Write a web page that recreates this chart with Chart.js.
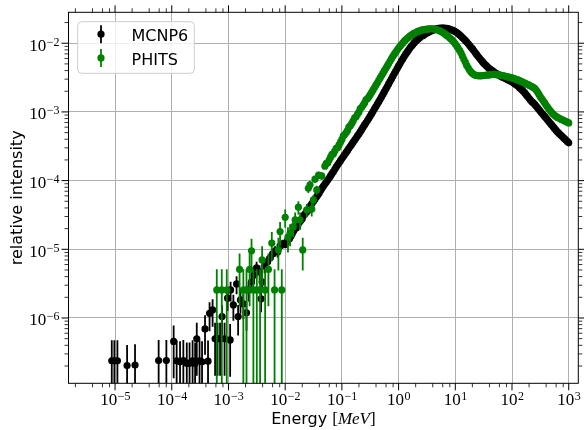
<!DOCTYPE html>
<html><head><meta charset="utf-8">
<script src="https://cdn.jsdelivr.net/npm/chart.js@4.4.0/dist/chart.umd.min.js"></script>
<style>html,body{margin:0;padding:0;background:#fff;}canvas{display:block;}</style>
</head><body>
<canvas id="c" width="584" height="430"></canvas>
<script>
// ---------- data ----------
const seriesNames = ['MCNP6', 'PHITS'];

// MCNP6: sparse low-energy points (energy MeV, intensity, relative error)
const mcnpLowE = [8.75e-6, 9.72e-6, 1.10e-5, 1.63e-5, 2.25e-5, 5.87e-5, 8.03e-5, 1.08e-4, 1.22e-4, 1.40e-4, 1.60e-4, 1.84e-4, 2.06e-4, 2.33e-4, 2.58e-4, 2.76e-4, 3.09e-4, 3.42e-4, 3.86e-4, 4.36e-4, 4.64e-4, 5.25e-4, 5.81e-4, 6.43e-4, 7.11e-4, 7.71e-4, 8.53e-4, 9.64e-4, 1.07e-3, 1.09e-3, 1.22e-3, 1.39e-3, 1.48e-3, 1.63e-3, 1.83e-3, 2.08e-3, 2.26e-3, 2.55e-3, 2.83e-3, 3.13e-3, 3.54e-3, 3.76e-3, 3.92e-3, 4.34e-3, 4.80e-3, 5.42e-3, 6.00e-3, 6.64e-3, 7.35e-3, 8.13e-3, 8.99e-3];
const mcnpLowI = [2.38e-7, 2.38e-7, 2.38e-7, 2.03e-7, 2.07e-7, 2.40e-7, 2.40e-7, 4.56e-7, 2.38e-7, 2.30e-7, 2.40e-7, 2.20e-7, 2.20e-7, 2.38e-7, 2.20e-7, 4.97e-7, 2.38e-7, 2.30e-7, 6.93e-7, 2.35e-7, 1.17e-6, 1.31e-6, 4.97e-7, 4.97e-7, 4.97e-7, 1.05e-6, 4.97e-7, 1.94e-6, 4.80e-7, 2.56e-6, 1.55e-6, 3.13e-6, 1.05e-6, 1.83e-6, 1.60e-6, 1.19e-6, 2.56e-6, 3.35e-6, 4.24e-6, 5.36e-6, 4.69e-6, 1.90e-6, 3.35e-6, 5.73e-6, 6.56e-6, 7.50e-6, 8.57e-6, 9.48e-6, 9.17e-6, 1.12e-5, 1.20e-5];
const mcnpLowErr = [1, 1, 1, 1, 1, 1, 1, 0.71, 1, 1, 1, 1, 1, 1, 1, 0.71, 1, 1, 0.58, 1, 0.45, 0.43, 0.71, 0.71, 0.71, 0.47, 0.71, 0.35, 0.71, 0.32, 0.41, 0.29, 0.47, 0.37, 0.40, 0.45, 0.32, 0.28, 0.26, 0.23, 0.24, 0.36, 0.28, 0.22, 0.20, 0.19, 0.18, 0.17, 0.17, 0.16, 0.15];

// MCNP6: dense part, even bins (error bars smaller than the markers)
const mcnpE = [1.00e-2, 1.12e-2, 1.26e-2, 1.41e-2, 1.58e-2, 1.78e-2, 2.00e-2, 2.24e-2, 2.51e-2, 2.82e-2, 3.16e-2, 3.55e-2, 3.98e-2, 4.47e-2, 5.01e-2, 5.62e-2, 6.31e-2, 7.08e-2, 7.94e-2, 8.91e-2,
  0.100, 0.112, 0.126, 0.141, 0.158, 0.178, 0.200, 0.224, 0.251, 0.282, 0.316, 0.355, 0.398, 0.447, 0.501, 0.562, 0.631, 0.708, 0.794, 0.891,
  1.00, 1.12, 1.26, 1.41, 1.58, 1.78, 2.00, 2.24, 2.51, 2.82, 3.16, 3.55, 3.98, 4.47, 5.01, 5.62, 6.31, 7.08, 7.94, 8.91,
  10.0, 11.2, 12.6, 14.1, 15.8, 17.8, 20.0, 22.4, 25.1, 28.2, 31.6, 35.5, 39.8, 44.7, 50.1, 56.2, 63.1, 70.8, 79.4, 89.1,
  100, 112, 126, 141, 158, 178, 200, 224, 251, 282, 316, 355, 398, 447, 501, 562, 631, 708, 794, 891, 1000];
const mcnpI = [1.17e-5, 1.38e-5, 1.55e-5, 1.85e-5, 2.06e-5, 2.48e-5, 2.79e-5, 3.28e-5, 3.68e-5, 4.37e-5, 5.01e-5, 5.75e-5, 6.61e-5, 7.76e-5, 8.91e-5, 1.02e-4, 1.17e-4, 1.35e-4, 1.58e-4, 1.82e-4,
  2.09e-4, 2.40e-4, 2.75e-4, 3.16e-4, 3.63e-4, 4.17e-4, 4.79e-4, 5.56e-4, 6.46e-4, 7.50e-4, 8.71e-4, 1.02e-3, 1.20e-3, 1.41e-3, 1.66e-3, 1.97e-3, 2.34e-3, 2.79e-3, 3.31e-3, 3.94e-3,
  4.68e-3, 5.50e-3, 6.46e-3, 7.41e-3, 8.51e-3, 9.55e-3, 1.07e-2, 1.16e-2, 1.26e-2, 1.33e-2, 1.41e-2, 1.48e-2, 1.55e-2, 1.60e-2, 1.64e-2, 1.66e-2, 1.66e-2, 1.64e-2, 1.60e-2, 1.55e-2,
  1.48e-2, 1.38e-2, 1.27e-2, 1.16e-2, 1.05e-2, 9.33e-3, 8.32e-3, 7.33e-3, 6.46e-3, 5.75e-3, 5.13e-3, 4.68e-3, 4.27e-3, 3.98e-3, 3.72e-3, 3.51e-3, 3.31e-3, 3.16e-3, 3.02e-3, 2.88e-3,
  2.75e-3, 2.57e-3, 2.40e-3, 2.19e-3, 2.00e-3, 1.78e-3, 1.58e-3, 1.41e-3, 1.29e-3, 1.15e-3, 1.02e-3, 9.12e-4, 8.13e-4, 7.24e-4, 6.46e-4, 5.75e-4, 5.13e-4, 4.68e-4, 4.27e-4, 3.89e-4, 3.55e-4];
// MCNP6: dense part, odd bins
const mcnpMidE = [1.06e-2, 1.19e-2, 1.33e-2, 1.50e-2, 1.68e-2, 1.88e-2, 2.11e-2, 2.37e-2, 2.66e-2, 2.99e-2, 3.35e-2, 3.76e-2, 4.22e-2, 4.73e-2, 5.31e-2, 5.96e-2, 6.68e-2, 7.50e-2, 8.41e-2, 9.44e-2,
  0.106, 0.119, 0.133, 0.150, 0.168, 0.188, 0.211, 0.237, 0.266, 0.299, 0.335, 0.376, 0.422, 0.473, 0.531, 0.596, 0.668, 0.750, 0.841, 0.944,
  1.06, 1.19, 1.33, 1.50, 1.68, 1.88, 2.11, 2.37, 2.66, 2.99, 3.35, 3.76, 4.22, 4.73, 5.31, 5.96, 6.68, 7.50, 8.41, 9.44,
  10.6, 11.9, 13.3, 15.0, 16.8, 18.8, 21.1, 23.7, 26.6, 29.9, 33.5, 37.6, 42.2, 47.3, 53.1, 59.6, 66.8, 75.0, 84.1, 94.4,
  106, 119, 133, 150, 168, 188, 211, 237, 266, 299, 335, 376, 422, 473, 531, 596, 668, 750, 841, 944];
const mcnpMidI = [1.27e-5, 1.43e-5, 1.69e-5, 2.00e-5, 2.26e-5, 2.63e-5, 3.10e-5, 3.47e-5, 3.95e-5, 4.68e-5, 5.37e-5, 6.17e-5, 7.16e-5, 8.32e-5, 9.53e-5, 1.09e-4, 1.26e-4, 1.46e-4, 1.70e-4, 1.95e-4,
  2.24e-4, 2.57e-4, 2.95e-4, 3.39e-4, 3.89e-4, 4.47e-4, 5.16e-4, 5.99e-4, 6.96e-4, 8.08e-4, 9.43e-4, 1.11e-3, 1.30e-3, 1.53e-3, 1.81e-3, 2.15e-3, 2.56e-3, 3.04e-3, 3.61e-3, 4.29e-3,
  5.07e-3, 5.96e-3, 6.92e-3, 7.94e-3, 9.02e-3, 1.01e-2, 1.11e-2, 1.21e-2, 1.29e-2, 1.37e-2, 1.44e-2, 1.51e-2, 1.57e-2, 1.62e-2, 1.65e-2, 1.66e-2, 1.65e-2, 1.62e-2, 1.57e-2, 1.51e-2,
  1.43e-2, 1.32e-2, 1.21e-2, 1.10e-2, 9.90e-3, 8.81e-3, 7.81e-3, 6.88e-3, 6.09e-3, 5.43e-3, 4.90e-3, 4.47e-3, 4.12e-3, 3.85e-3, 3.61e-3, 3.41e-3, 3.23e-3, 3.09e-3, 2.95e-3, 2.81e-3,
  2.66e-3, 2.48e-3, 2.29e-3, 2.09e-3, 1.89e-3, 1.68e-3, 1.49e-3, 1.35e-3, 1.22e-3, 1.08e-3, 9.65e-4, 8.61e-4, 7.67e-4, 6.84e-4, 6.09e-4, 5.43e-4, 4.90e-4, 4.47e-4, 4.08e-4, 3.72e-4];

// PHITS: sparse low-energy points
const phitsLowE = [6.22e-4, 7.62e-4, 9.33e-4, 1.57e-3, 1.83e-3, 2.08e-3, 2.36e-3, 2.55e-3, 2.75e-3, 3.16e-3, 3.61e-3, 3.92e-3, 4.43e-3, 5.06e-3, 5.81e-3, 6.50e-3, 7.59e-3, 8.13e-3, 8.71e-3, 1.00e-2, 1.12e-2, 1.22e-2, 1.39e-2, 1.50e-2, 1.71e-2, 1.83e-2, 2.04e-2, 2.40e-2, 2.56e-2, 2.74e-2, 2.94e-2, 3.14e-2, 3.36e-2, 3.60e-2, 3.89e-2, 4.41e-2];
const phitsLowI = [2.56e-6, 2.56e-6, 2.56e-6, 5.1e-6, 2.56e-6, 2.56e-6, 5.1e-6, 9.5e-6, 2.56e-6, 2.56e-6, 2.56e-6, 7.0e-6, 2.56e-6, 5.1e-6, 1.23e-5, 2.56e-6, 9.8e-6, 1.81e-5, 2.56e-6, 2.93e-5, 1.5e-5, 1.71e-5, 2.14e-5, 2.68e-5, 4.10e-5, 2.68e-5, 9.8e-6, 3.75e-5, 7.74e-5, 8.71e-5, 3.84e-5, 5.24e-5, 1.05e-4, 7.33e-5, 1.20e-4, 1.17e-4];
const phitsLowErr = [1, 1, 1, 0.71, 1, 1, 0.71, 0.5, 1, 1, 1, 0.58, 1, 0.71, 0.45, 1, 0.5, 0.38, 1, 0.3, 0.4, 0.35, 0.3, 0.28, 0.22, 0.28, 0.5, 0.22, 0.15, 0.14, 0.22, 0.18, 0.12, 0.15, 0.12, 0.12];

// PHITS: dense part, even bins
const phitsE = [5.01e-2, 5.62e-2, 6.31e-2, 7.08e-2, 7.94e-2, 8.91e-2,
  0.100, 0.112, 0.126, 0.141, 0.158, 0.178, 0.200, 0.224, 0.251, 0.282, 0.316, 0.355, 0.398, 0.447, 0.501, 0.562, 0.631, 0.708, 0.794, 0.891,
  1.00, 1.12, 1.26, 1.41, 1.58, 1.78, 2.00, 2.24, 2.51, 2.82, 3.16, 3.55, 3.98, 4.47, 5.01, 5.62, 6.31, 7.08, 7.94, 8.91,
  10.0, 11.2, 12.6, 14.1, 15.8, 17.8, 20.0, 22.4, 25.1, 28.2, 31.6, 35.5, 39.8, 44.7, 50.1, 56.2, 63.1, 70.8, 79.4, 89.1,
  100, 112, 126, 141, 158, 178, 200, 224, 251, 282, 316, 355, 398, 447, 501, 562, 631, 708, 794, 891, 1000];
const phitsI = [1.62e-4, 1.80e-4, 2.19e-4, 2.45e-4, 2.95e-4, 3.31e-4,
  3.98e-4, 4.68e-4, 5.37e-4, 6.31e-4, 7.41e-4, 8.51e-4, 1.00e-3, 1.17e-3, 1.35e-3, 1.55e-3, 1.78e-3, 2.09e-3, 2.45e-3, 2.88e-3, 3.39e-3, 3.98e-3, 4.68e-3, 5.50e-3, 6.46e-3, 7.41e-3,
  8.51e-3, 9.55e-3, 1.07e-2, 1.17e-2, 1.27e-2, 1.36e-2, 1.43e-2, 1.50e-2, 1.55e-2, 1.58e-2, 1.60e-2, 1.62e-2, 1.62e-2, 1.60e-2, 1.55e-2, 1.48e-2, 1.40e-2, 1.30e-2, 1.20e-2, 1.10e-2,
  9.77e-3, 8.51e-3, 7.24e-3, 5.89e-3, 4.79e-3, 4.07e-3, 3.63e-3, 3.43e-3, 3.35e-3, 3.35e-3, 3.39e-3, 3.43e-3, 3.47e-3, 3.51e-3, 3.51e-3, 3.47e-3, 3.43e-3, 3.35e-3, 3.27e-3, 3.20e-3,
  3.13e-3, 3.02e-3, 2.92e-3, 2.82e-3, 2.69e-3, 2.57e-3, 2.45e-3, 2.34e-3, 2.21e-3, 1.95e-3, 1.66e-3, 1.45e-3, 1.26e-3, 1.10e-3, 9.77e-4, 8.91e-4, 8.32e-4, 7.94e-4, 7.59e-4, 7.24e-4, 6.92e-4];
// PHITS: dense part, odd bins
const phitsMidE = [5.31e-2, 5.96e-2, 6.68e-2, 7.50e-2, 8.41e-2, 9.44e-2,
  0.106, 0.119, 0.133, 0.150, 0.168, 0.188, 0.211, 0.237, 0.266, 0.299, 0.335, 0.376, 0.422, 0.473, 0.531, 0.596, 0.668, 0.750, 0.841, 0.944,
  1.06, 1.19, 1.33, 1.50, 1.68, 1.88, 2.11, 2.37, 2.66, 2.99, 3.35, 3.76, 4.22, 4.73, 5.31, 5.96, 6.68, 7.50, 8.41, 9.44,
  10.6, 11.9, 13.3, 15.0, 16.8, 18.8, 21.1, 23.7, 26.6, 29.9, 33.5, 37.6, 42.2, 47.3, 53.1, 59.6, 66.8, 75.0, 84.1, 94.4,
  106, 119, 133, 150, 168, 188, 211, 237, 266, 299, 335, 376, 422, 473, 531, 596, 668, 750, 841, 944];
const phitsMidI = [1.78e-4, 1.99e-4, 2.41e-4, 2.69e-4, 3.02e-4, 3.63e-4,
  4.47e-4, 5.01e-4, 6.03e-4, 6.84e-4, 8.20e-4, 9.22e-4, 1.12e-3, 1.26e-3, 1.50e-3, 1.66e-3, 1.93e-3, 2.26e-3, 2.66e-3, 3.12e-3, 3.67e-3, 4.32e-3, 5.07e-3, 5.96e-3, 6.92e-3, 7.94e-3,
  9.02e-3, 1.01e-2, 1.12e-2, 1.22e-2, 1.31e-2, 1.39e-2, 1.46e-2, 1.52e-2, 1.56e-2, 1.59e-2, 1.61e-2, 1.62e-2, 1.61e-2, 1.57e-2, 1.51e-2, 1.44e-2, 1.35e-2, 1.25e-2, 1.15e-2, 1.04e-2,
  9.12e-3, 7.85e-3, 6.53e-3, 5.31e-3, 4.42e-3, 3.84e-3, 3.53e-3, 3.39e-3, 3.35e-3, 3.37e-3, 3.41e-3, 3.45e-3, 3.49e-3, 3.51e-3, 3.49e-3, 3.45e-3, 3.39e-3, 3.31e-3, 3.23e-3, 3.16e-3,
  3.07e-3, 2.97e-3, 2.87e-3, 2.75e-3, 2.63e-3, 2.51e-3, 2.39e-3, 2.27e-3, 2.08e-3, 1.80e-3, 1.55e-3, 1.35e-3, 1.18e-3, 1.04e-3, 9.33e-4, 8.61e-4, 8.13e-4, 7.76e-4, 7.41e-4, 7.08e-4];

// axes
const xRange = [1.51e-6, 1476];
const yRange = [1.12e-7, 0.0282];
const xTickValues = [1e-5, 1e-4, 1e-3, 1e-2, 1e-1, 1, 10, 100, 1000];
const xTickExps = ['\u22125', '\u22124', '\u22123', '\u22122', '\u22121', '0', '1', '2', '3'];
const yTickValues = [1e-6, 1e-5, 1e-4, 1e-3, 1e-2];
const yTickExps = ['\u22126', '\u22125', '\u22124', '\u22123', '\u22122'];
const xMinorSubs = [2, 4, 6, 8];
const yMinorSubs = [2, 3, 4, 5, 6, 7, 8, 9];

// ---------- build ----------
function pts(E, I, err) {
  return E.map((e, i) => ({ x: e, y: I[i], err: err ? err[i] : 0 }));
}
const mcnpData = pts(mcnpLowE, mcnpLowI, mcnpLowErr).concat(pts(mcnpE, mcnpI), pts(mcnpMidE, mcnpMidI));
const phitsData = pts(phitsLowE, phitsLowI, phitsLowErr).concat(pts(phitsE, phitsI), pts(phitsMidE, phitsMidI));

const BLACK = '#000000', GREEN = '#008000';
const SERIF = '"Liberation Serif", "DejaVu Serif", serif';
const SANS = '"DejaVu Sans", sans-serif';

function minorList(range, subs) {
  const out = [];
  for (let d = Math.floor(Math.log10(range[0])); d <= Math.ceil(Math.log10(range[1])); d++) {
    subs.forEach(s => { const v = s * Math.pow(10, d); if (v > range[0] && v < range[1]) out.push(v); });
  }
  return out;
}

const errorBars = {
  id: 'errorBars',
  beforeDatasetDraw(chart, args) {
    const ds = chart.data.datasets[args.index];
    const xs = chart.scales.x, ys = chart.scales.y, a = chart.chartArea, ctx = chart.ctx;
    ctx.save();
    ctx.beginPath(); ctx.rect(a.left, a.top, a.right - a.left, a.bottom - a.top); ctx.clip();
    ctx.strokeStyle = ds.backgroundColor; ctx.lineWidth = 1.8;
    ds.data.forEach(p => {
      if (!p.err) return;
      const x = xs.getPixelForValue(p.x);
      const top = ys.getPixelForValue(p.y * (1 + p.err));
      const lo = p.y * (1 - p.err);
      const bot = lo > 0 ? ys.getPixelForValue(lo) : a.bottom + 5;
      ctx.beginPath(); ctx.moveTo(x, top); ctx.lineTo(x, bot); ctx.stroke();
    });
    ctx.restore();
  }
};

function supLabel(ctx, base, exp, x, y, align, supDy) {
  ctx.font = '17px ' + SERIF;
  const wb = ctx.measureText(base).width;
  ctx.font = '12px ' + SERIF;
  const ws = ctx.measureText(exp).width;
  const w = wb + ws;
  const x0 = align === 'center' ? x - w / 2 : x - w;
  ctx.textAlign = 'left'; ctx.textBaseline = 'alphabetic';
  ctx.font = '17px ' + SERIF; ctx.fillText(base, x0, y);
  ctx.font = '12px ' + SERIF; ctx.fillText(exp, x0 + wb + 0.5, y - supDy);
}

const frame = {
  id: 'frame',
  afterDraw(chart) {
    const ctx = chart.ctx, a = chart.chartArea, xs = chart.scales.x, ys = chart.scales.y;
    ctx.save();
    ctx.strokeStyle = '#000'; ctx.fillStyle = '#000';
    ctx.lineWidth = 1;
    ctx.strokeRect(a.left, a.top, a.right - a.left, a.bottom - a.top);
    const line = (x1, y1, x2, y2) => { ctx.beginPath(); ctx.moveTo(x1, y1); ctx.lineTo(x2, y2); ctx.stroke(); };
    ctx.lineWidth = 1;
    xTickValues.forEach(v => { const x = xs.getPixelForValue(v); line(x, a.bottom, x, a.bottom + 7); line(x, a.top, x, a.top - 7); });
    yTickValues.forEach(v => { const y = ys.getPixelForValue(v); line(a.left, y, a.left - 7, y); line(a.right, y, a.right + 7, y); });
    ctx.lineWidth = 0.8;
    minorList(xRange, xMinorSubs).forEach(v => { const x = xs.getPixelForValue(v); line(x, a.bottom, x, a.bottom + 4); line(x, a.top, x, a.top - 4); });
    minorList(yRange, yMinorSubs).forEach(v => { const y = ys.getPixelForValue(v); line(a.left, y, a.left - 4, y); line(a.right, y, a.right + 4, y); });
    // tick labels
    xTickValues.forEach((v, i) => supLabel(ctx, '10', xTickExps[i], xs.getPixelForValue(v), a.bottom + 22, 'center', 5.5));
    yTickValues.forEach((v, i) => supLabel(ctx, '10', yTickExps[i], a.left - 9.5, ys.getPixelForValue(v) + 7.3, 'right', 5));
    // axis titles
    ctx.save();
    ctx.translate(21.5, (a.top + a.bottom) / 2);
    ctx.rotate(-Math.PI / 2);
    ctx.font = '16px ' + SANS; ctx.textAlign = 'center'; ctx.textBaseline = 'alphabetic';
    ctx.fillText('relative intensity', 0, 0);
    ctx.restore();
    const parts = [['Energy ', '16px ' + SANS], ['[', '17px ' + SERIF], ['MeV', 'italic 17px ' + SERIF], [']', '17px ' + SERIF]];
    let tw = 0;
    parts.forEach(p => { ctx.font = p[1]; p.push(ctx.measureText(p[0]).width); tw += p[2]; });
    let cx = (a.left + a.right) / 2 - tw / 2;
    ctx.textAlign = 'left';
    parts.forEach(p => { ctx.font = p[1]; ctx.fillText(p[0], cx, 424); cx += p[2]; });
    // legend
    const lx = 77.7, ly = 21.7, lw = 116.6, lh = 51.6, r = 4;
    ctx.beginPath();
    ctx.moveTo(lx + r, ly); ctx.lineTo(lx + lw - r, ly); ctx.arcTo(lx + lw, ly, lx + lw, ly + r, r);
    ctx.lineTo(lx + lw, ly + lh - r); ctx.arcTo(lx + lw, ly + lh, lx + lw - r, ly + lh, r);
    ctx.lineTo(lx + r, ly + lh); ctx.arcTo(lx, ly + lh, lx, ly + lh - r, r);
    ctx.lineTo(lx, ly + r); ctx.arcTo(lx, ly, lx + r, ly, r); ctx.closePath();
    ctx.fillStyle = 'rgba(255,255,255,0.8)'; ctx.fill();
    ctx.strokeStyle = '#cccccc'; ctx.lineWidth = 1; ctx.stroke();
    const entries = [[seriesNames[0], BLACK, 34.2, 40.6], [seriesNames[1], GREEN, 57.9, 64.6]];
    entries.forEach(en => {
      ctx.strokeStyle = en[1]; ctx.fillStyle = en[1]; ctx.lineWidth = 1.8;
      line(101, en[2] - 9, 101, en[2] + 9);
      ctx.beginPath(); ctx.arc(101, en[2], 3.6, 0, Math.PI * 2); ctx.fill();
      ctx.fillStyle = '#000'; ctx.font = '16px ' + SANS; ctx.textAlign = 'left';
      ctx.fillText(en[0], 131.5, en[3]);
    });
    ctx.restore();
  }
};

new Chart(document.getElementById('c'), {
  type: 'scatter',
  data: {
    datasets: [
      { label: seriesNames[1], data: phitsData, order: 0, backgroundColor: GREEN, borderColor: GREEN, pointRadius: 3.6, pointHoverRadius: 3.6, pointBorderWidth: 0 },
      { label: seriesNames[0], data: mcnpData, order: 1, backgroundColor: BLACK, borderColor: BLACK, pointRadius: 3.6, pointHoverRadius: 3.6, pointBorderWidth: 0 }
    ]
  },
  options: {
    responsive: false, animation: false, events: [],
    layout: { padding: { top: 12.3, right: 5.7, left: 0, bottom: 0 } },
    plugins: { legend: { display: false }, tooltip: { enabled: false }, title: { display: false } },
    scales: {
      x: {
        type: 'logarithmic', min: xRange[0], max: xRange[1],
        afterBuildTicks: s => { s.ticks = xTickValues.map(v => ({ value: v })); },
        afterFit: s => { s.height = 430 - 383.3; },
        ticks: { display: false },
        grid: { color: '#b0b0b0', lineWidth: 1, drawTicks: false },
        border: { display: false }
      },
      y: {
        type: 'logarithmic', min: yRange[0], max: yRange[1],
        afterBuildTicks: s => { s.ticks = yTickValues.map(v => ({ value: v })); },
        afterFit: s => { s.width = 68.5; },
        ticks: { display: false },
        grid: { color: '#b0b0b0', lineWidth: 1, drawTicks: false },
        border: { display: false }
      }
    }
  },
  plugins: [errorBars, frame]
});
</script>
</body></html>
